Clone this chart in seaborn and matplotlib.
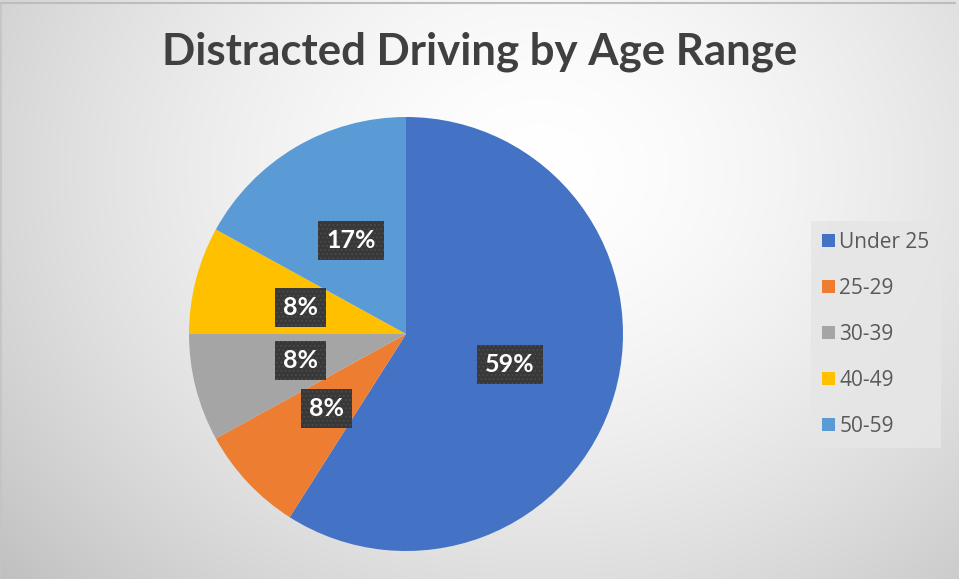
import numpy as np
import matplotlib
matplotlib.use("Agg")
import matplotlib.pyplot as plt
import seaborn as sns

# Data
age_ranges = ["Under 25", "25-29", "30-39", "40-49", "50-59"]
shares = [59, 8, 8, 8, 17]
slice_colors = ["#4472C4", "#ED7D31", "#A5A5A5", "#FFC000", "#5B9BD5"]
chart_title = "Distracted Driving by Age Range"

sns.set_theme(style="white")
plt.rcParams["font.family"] = ["Lato", "DejaVu Sans"]
plt.rcParams["hatch.linewidth"] = 0.8

W, H = 959, 579
fig = plt.figure(figsize=(W / 100, H / 100), dpi=100)

# Soft radial background, brightest toward the upper middle
bg = fig.add_axes([0, 0, 1, 1], zorder=-10)
yy, xx = np.mgrid[0:H, 0:W]
d = np.sqrt(((xx - 540) / 560.0) ** 2 + ((yy - 170) / 480.0) ** 2)
shade = np.clip(255 - 42 * d ** 1.6, 190, 255) / 255.0
bg.imshow(np.dstack([shade] * 3), extent=[0, W, H, 0], aspect="auto")
# thin frame along the top and left edges
bg.plot([0, W - 4], [2.5, 2.5], color="#bdbdbd", lw=1.5)
bg.plot([1, 1], [2.5, H], color="#c4c4c4", lw=1.2)
bg.set_xlim(0, W)
bg.set_ylim(H, 0)
bg.axis("off")

# Pie
cx, cy, r = 406, 334, 217
ax = fig.add_axes([(cx - r) / W, (H - cy - r) / H, 2 * r / W, 2 * r / H])
palette = sns.color_palette(slice_colors)
wedges, texts, autotexts = ax.pie(
    shares, colors=palette, startangle=90, counterclock=False,
    autopct="%.0f%%", pctdistance=0.5, radius=1.0,
    wedgeprops=dict(linewidth=0),
    textprops=dict(color="white", fontsize=18, fontweight="bold"),
)
for t in autotexts:
    t.set_bbox(dict(boxstyle="square,pad=0.32", fc="#383838", ec="#4b4b4b",
                    lw=0, hatch="...."))
ax.set_xlim(-1, 1)
ax.set_ylim(-1, 1)
ax.set_aspect("equal")
ax.axis("off")

# Title
fig.text(0.5, 1 - 52 / H, chart_title, ha="center", va="center",
         fontsize=31.5, fontweight="bold", color="#404040")

# Legend
leg = fig.legend(wedges, age_ranges, loc="center",
                 bbox_to_anchor=(876 / W, 1 - 334.5 / H),
                 prop=dict(family=["Open Sans", "DejaVu Sans"], size=15),
                 labelcolor="#595959", frameon=True, fancybox=False,
                 handlelength=0.62, handleheight=0.62, handletextpad=0.2,
                 labelspacing=1.2, borderpad=0.55)
leg.get_frame().set_facecolor("#e6e6e6")
leg.get_frame().set_edgecolor("none")
leg.get_frame().set_alpha(0.9)

fig.savefig("out.png", dpi=100)
